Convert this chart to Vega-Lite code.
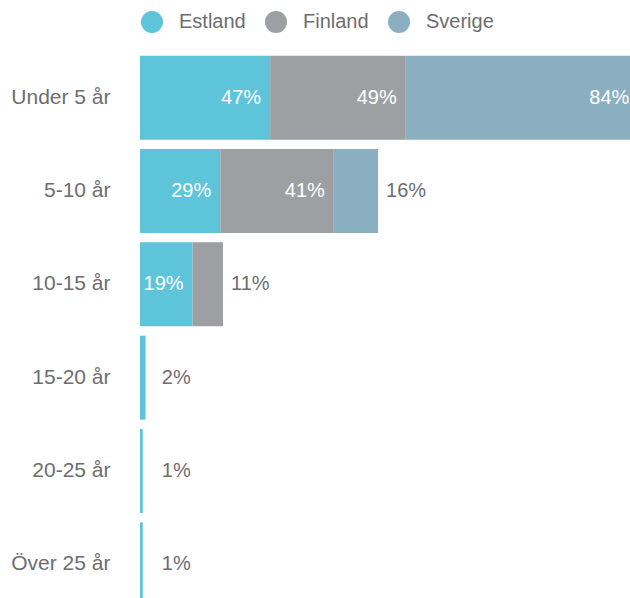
{
  "$schema": "https://vega.github.io/schema/vega-lite/v6.json",
  "width": 490,
  "height": 547,
  "autosize": {"type": "none"},
  "padding": {"left": 140, "top": 51, "right": 0, "bottom": 0},
  "background": "white",
  "config": {"view": {"stroke": null}, "font": "Liberation Sans"},
  "data": {
    "values": [
      {"alder": "Under 5 år", "land": "Estland", "value": 47},
      {"alder": "Under 5 år", "land": "Finland", "value": 49},
      {"alder": "Under 5 år", "land": "Sverige", "value": 84},
      {"alder": "5-10 år", "land": "Estland", "value": 29},
      {"alder": "5-10 år", "land": "Finland", "value": 41},
      {"alder": "5-10 år", "land": "Sverige", "value": 16},
      {"alder": "10-15 år", "land": "Estland", "value": 19},
      {"alder": "10-15 år", "land": "Finland", "value": 11},
      {"alder": "15-20 år", "land": "Estland", "value": 2},
      {"alder": "20-25 år", "land": "Estland", "value": 1},
      {"alder": "Över 25 år", "land": "Estland", "value": 1}
    ]
  },
  "transform": [
    {"calculate": "indexof(['Estland','Finland','Sverige'], datum.land)", "as": "ord"},
    {"stack": "value", "groupby": ["alder"], "sort": [{"field": "ord", "order": "ascending"}], "as": ["v0", "v1"]},
    {"calculate": "datum.value + '%'", "as": "label"}
  ],
  "encoding": {
    "y": {
      "field": "alder",
      "type": "nominal",
      "sort": ["Under 5 år", "5-10 år", "10-15 år", "15-20 år", "20-25 år", "Över 25 år"],
      "scale": {"range": [0, 560], "paddingInner": 0.1, "paddingOuter": 0.05},
      "axis": {"title": null, "ticks": false, "domain": false, "grid": false, "labelFontSize": 21, "labelColor": "#6d6d70", "labelPadding": 30, "labelFont": "Liberation Sans"}
    }
  },
  "layer": [
    {
      "mark": {"type": "bar"},
      "encoding": {
        "x": {"field": "v0", "type": "quantitative", "scale": {"domain": [0, 177], "nice": false, "zero": true}, "axis": null},
        "x2": {"field": "v1"},
        "color": {
          "field": "land",
          "type": "nominal",
          "scale": {"domain": ["Estland", "Finland", "Sverige"], "range": ["#5ec4da", "#9e9fa3", "#8aafc1"]},
          "legend": {
            "title": null,
            "orient": "none",
            "direction": "horizontal",
            "legendX": 1,
            "legendY": -40,
            "symbolType": "circle",
            "symbolSize": 484,
            "symbolStrokeWidth": 0,
            "symbolOpacity": 1,
            "labelFontSize": 20,
            "labelColor": "#6d6d70",
            "labelFont": "Liberation Sans",
            "labelOffset": 16,
            "columnPadding": 19
          }
        }
      }
    },
    {
      "transform": [{"filter": "datum.value >= 18"}],
      "mark": {"type": "text", "align": "right", "baseline": "middle", "dx": -9, "color": "white", "fontSize": 20, "font": "Liberation Sans"},
      "encoding": {
        "x": {"field": "v1", "type": "quantitative"},
        "text": {"field": "label"}
      }
    },
    {
      "transform": [{"filter": "datum.value < 18"}, {"calculate": "max(datum.v1, 5)", "as": "lx"}],
      "mark": {"type": "text", "align": "left", "baseline": "middle", "dx": 8, "color": "#6d6d70", "fontSize": 20, "font": "Liberation Sans"},
      "encoding": {
        "x": {"field": "lx", "type": "quantitative"},
        "text": {"field": "label"}
      }
    }
  ]
}
